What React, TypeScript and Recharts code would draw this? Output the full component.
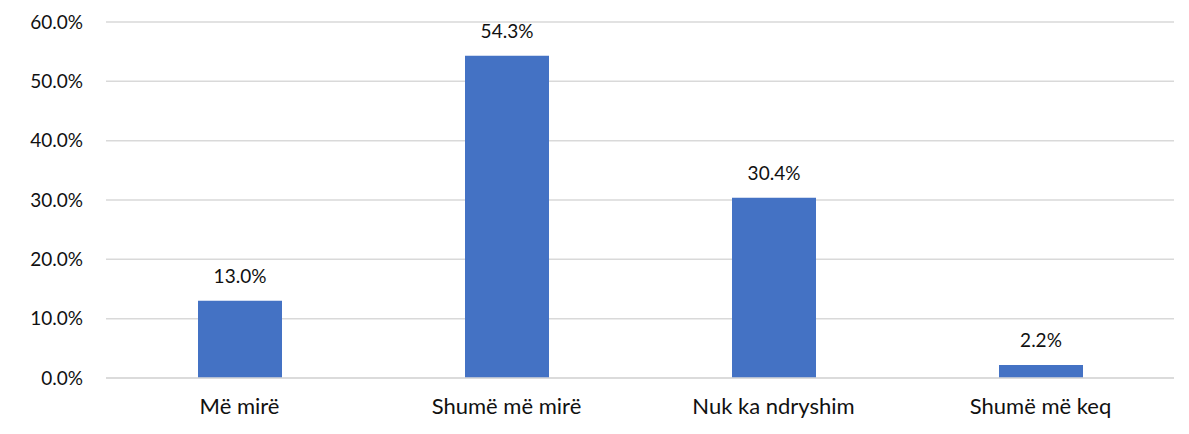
import React from "react";
import { BarChart, Bar, XAxis, YAxis, CartesianGrid, LabelList } from "recharts";

const categories = ["Më mirë", "Shumë më mirë", "Nuk ka ndryshim", "Shumë më keq"];
const values = [13.0, 54.3, 30.4, 2.2];
const yTicks = [0, 10, 20, 30, 40, 50, 60];

const data = categories.map((c, i) => ({ name: c, value: values[i] }));

const FONT = "Lato, 'Open Sans', sans-serif";
const TEXT = "#111111";

export default function App() {
  return (
    <div
      style={{
        margin: "-8px 0 0 -2px",
        width: 1181,
        height: 434,
        background: "#fff",
        borderLeft: "2px solid #d9d9d9",
      }}
    >
      <BarChart
        width={1181}
        height={434}
        data={data}
        margin={{ top: 22, right: 15, bottom: 0, left: 0 }}
        style={{ fontFamily: FONT }}
      >
        <CartesianGrid vertical={false} stroke="#d9d9d9" strokeWidth={1.5} />
        <XAxis
          dataKey="name"
          axisLine={{ stroke: "#d9d9d9", strokeWidth: 1.5 }}
          tickLine={false}
          tickSize={0}
          tickMargin={20}
          height={56}
          tick={{ fill: TEXT, fontSize: 22, fontFamily: FONT }}
          interval={0}
        />
        <YAxis
          domain={[0, 60]}
          ticks={yTicks}
          width={98}
          axisLine={false}
          tickLine={false}
          tickSize={0}
          tickMargin={23}
          tickFormatter={(v: number) => v.toFixed(1) + "%"}
          tick={{ fill: TEXT, fontSize: 19, fontFamily: FONT }}
          interval={0}
        />
        <Bar dataKey="value" fill="#4472C4" barSize={84} isAnimationActive={false}>
          <LabelList
            dataKey="value"
            position="top"
            offset={18}
            formatter={(v: number) => v.toFixed(1) + "%"}
            style={{ fill: TEXT, fontSize: 19, fontFamily: FONT }}
          />
        </Bar>
      </BarChart>
    </div>
  );
}
